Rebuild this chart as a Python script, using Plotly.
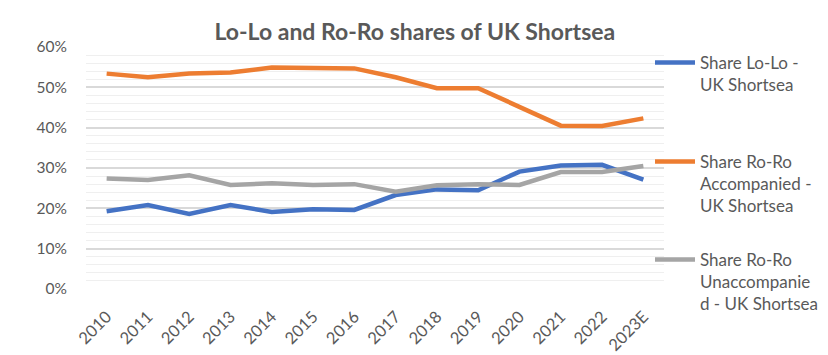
import plotly.graph_objects as go

years = ["2010", "2011", "2012", "2013", "2014", "2015", "2016", "2017",
         "2018", "2019", "2020", "2021", "2022", "2023E"]
lolo = [19.3, 20.8, 18.6, 20.8, 19.1, 19.8, 19.6, 23.3, 24.7, 24.5, 29.1, 30.6, 30.8, 27.1]
roro_acc = [53.4, 52.5, 53.4, 53.7, 54.9, 54.7, 54.7, 52.5, 49.8, 49.8, 45.1, 40.5, 40.4, 42.3]
roro_unacc = [27.4, 27.0, 28.2, 25.8, 26.2, 25.8, 26.0, 24.1, 25.7, 26.0, 25.8, 29.0, 29.0, 30.5]

names = ["Share Lo-Lo -<br>UK Shortsea",
         "Share Ro-Ro<br>Accompanied -<br>UK Shortsea",
         "Share Ro-Ro<br>Unaccompanie<br>d - UK Shortsea"]
colors = ["#4472C4", "#ED7D31", "#A5A5A5"]
series = [lolo, roro_acc, roro_unacc]

FONT = "Lato"
GRAY = "#595959"
W, H = 828, 355
T, B, L, R = 47, 66, 86, 164


def paper_y(ypix):
    return (H - B - ypix) / (H - T - B)


def paper_x(xpix):
    return (xpix - L) / (W - L - R)


legend_ids = ["legend", "legend2", "legend3"]
legend_tops = [45, 144, 242]  # pixel tops of each legend block

fig = go.Figure()
for nm, col, vals, lid in zip(names, colors, series, legend_ids):
    fig.add_trace(go.Scatter(
        x=years, y=[v / 100 for v in vals], name=nm, mode="lines",
        line=dict(color=col, width=4.5), legend=lid,
    ))

leg_common = dict(x=paper_x(650), xanchor="left", yanchor="top", valign="top",
                  itemwidth=40,
                  font=dict(family=FONT, size=17, color=GRAY),
                  bgcolor="rgba(0,0,0,0)")

fig.update_layout(
    width=W, height=H,
    margin=dict(l=L, r=R, t=T, b=B, autoexpand=False),
    paper_bgcolor="white", plot_bgcolor="white",
    font=dict(family=FONT, color=GRAY, size=15),
    title=dict(text="<b>Lo-Lo and Ro-Ro shares of UK Shortsea</b>",
               x=0.501, xanchor="center", y=1 - 32 / H, yanchor="middle",
               font=dict(family=FONT, size=23, color=GRAY)),
    legend=dict(y=paper_y(legend_tops[0]), **leg_common),
    legend2=dict(y=paper_y(legend_tops[1]), **leg_common),
    legend3=dict(y=paper_y(legend_tops[2]), **leg_common),
    showlegend=True,
)
fig.update_xaxes(type="category", range=[-0.5, 13.5], tickangle=-45,
                 showgrid=False, showline=False, zeroline=False, automargin=False,
                 ticklabelstandoff=14,
                 tickfont=dict(family=FONT, size=16.5, color=GRAY))
fig.update_yaxes(range=[0, 0.6], dtick=0.1, tickformat=".0%",
                 showgrid=True, gridcolor="#D9D9D9", gridwidth=1.5,
                 zeroline=False, showline=False, ticklabelstandoff=18, automargin=False,
                 minor=dict(dtick=0.02, showgrid=True, gridcolor="#EFEFEF", gridwidth=1),
                 tickfont=dict(family=FONT, size=15.5, color=GRAY))

fig.write_html("out.html", config={"displayModeBar": False},
               post_script="document.body.style.margin='0';document.body.style.overflow='hidden';")
